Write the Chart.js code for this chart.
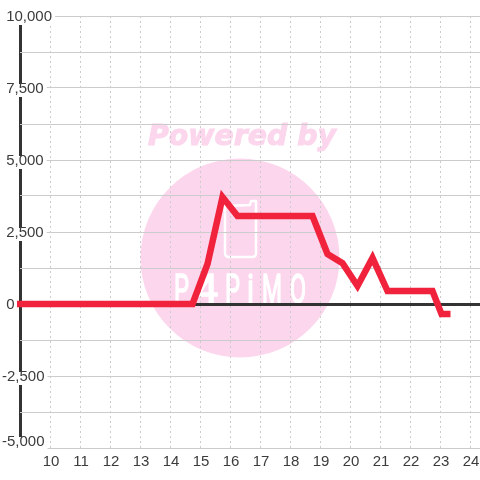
<!DOCTYPE html>
<html>
<head>
<meta charset="utf-8">
<title>Chart</title>
<style>
  html, body { margin: 0; padding: 0; background: #fff; }
  #chart { display: block; }
</style>
<script src="https://cdn.jsdelivr.net/npm/chart.js@4"></script>
</head>
<body>
<canvas id="chart" width="480" height="480"></canvas>
<script>
const hours = [8.9, 14.75, 15.25, 15.75, 16.25, 18.75, 19.25, 19.75, 20.25, 20.75, 21.25, 22.75, 23.05, 23.35];
const values = [0, 0, 1390, 3715, 3055, 3055, 1736, 1420, 625, 1600, 450, 450, -350, -350];
const hourTicks = [9, 10, 11, 12, 13, 14, 15, 16, 17, 18, 19, 20, 21, 22, 23, 24];
// -4757 only carries the bottom label, which sits just above its line
const yTicks = [-5000, -4757, -3750, -2500, -1250, 0, 1250, 2500, 3750, 5000, 6250, 7500, 8750, 10000];
const yTickLabels = ['', '-5,000', '', '-2,500', '', '0', '', '2,500', '', '5,000', '', '7,500', '', '10,000'];

const logoLetters = ['P', '4', 'P', 'i', 'M', 'O'];
const logoLetterX = [174, 195, 225, 247, 262, 290];
const logoLetterW = [15, 23, 15, 7, 20, 16];

const textColor = '#3c3c3c';
const gridColor = '#ccc';
const axisColor = '#333';

// pink logo behind the grid
const watermark = {
  id: 'watermark',
  beforeDraw(chart) {
    const c = chart.ctx;
    c.save();
    c.fillStyle = '#fcd6ec';
    c.beginPath();
    c.arc(240, 258, 99.5, 0, Math.PI * 2);
    c.fill();

    c.font = 'italic bold 29px "DejaVu Sans"';
    c.textAlign = 'left';
    c.textBaseline = 'alphabetic';
    c.strokeStyle = '#fcd6ec';
    c.lineWidth = 1;
    c.fillText('Powered by', 148, 145, 188);
    c.strokeText('Powered by', 148, 145, 188);

    c.strokeStyle = '#fff';
    c.lineWidth = 2.5;
    c.lineJoin = 'round';
    c.beginPath();
    c.moveTo(225, 206);
    c.lineTo(250, 205);
    c.lineTo(251, 201);
    c.lineTo(256, 201);
    c.lineTo(256, 253);
    c.quadraticCurveTo(256, 257, 252, 257);
    c.lineTo(229, 257);
    c.quadraticCurveTo(225, 257, 225, 253);
    c.closePath();
    c.stroke();

    c.fillStyle = '#fff';
    c.lineWidth = 1.5;
    c.font = '41px Roboto';
    logoLetters.forEach((ch, i) => {
      c.fillText(ch, logoLetterX[i], 303, logoLetterW[i]);
      c.strokeText(ch, logoLetterX[i], 303, logoLetterW[i]);
    });
    c.restore();
  }
};

new Chart(document.getElementById('chart'), {
  type: 'line',
  data: {
    datasets: [{
      data: hours.map((h, i) => ({ x: h, y: values[i] })),
      borderColor: '#f0223c',
      borderWidth: 6.5,
      pointRadius: 0,
      tension: 0,
      clip: false,
      borderJoinStyle: 'miter'
    }]
  },
  plugins: [watermark],
  options: {
    responsive: false,
    animation: false,
    layout: { padding: { top: 16 } },
    plugins: { legend: { display: false }, tooltip: { enabled: false } },
    scales: {
      x: {
        type: 'linear',
        min: 9,
        max: 24.333,
        afterBuildTicks(s) { s.ticks = hourTicks.map(value => ({ value })); },
        afterFit(s) { s.height = 32; s.paddingLeft = 0; s.paddingRight = 0; },
        border: {
          display: false,
          dash: ctx => (ctx.tick && ctx.tick.value === 9 ? [] : [2, 3])
        },
        grid: {
          drawTicks: false,
          color: ctx => (ctx.tick && ctx.tick.value === 9 ? axisColor : gridColor),
          lineWidth: ctx => (ctx.tick && ctx.tick.value === 9 ? 3 : 1)
        },
        ticks: {
          autoSkip: false,
          maxRotation: 0,
          padding: 5,
          labelOffset: 1,
          color: textColor,
          font: { family: '"Liberation Sans"', size: 15 },
          callback: v => (v === 9 ? '' : String(v))
        }
      },
      y: {
        min: -5000,
        max: 10000,
        afterBuildTicks(s) { s.ticks = yTicks.map(value => ({ value })); },
        afterFit(s) { s.width = 20; s.paddingTop = 0; s.paddingBottom = 0; },
        border: { display: false },
        grid: {
          drawTicks: false,
          color: ctx => {
            if (!ctx.tick) return gridColor;
            if (ctx.tick.value === -4757) return 'rgba(0,0,0,0)';
            return ctx.tick.value === 0 ? axisColor : gridColor;
          },
          lineWidth: ctx => (ctx.tick && ctx.tick.value === 0 ? 3 : 1)
        },
        ticks: {
          mirror: true,
          padding: -18,
          labelOffset: 1,
          color: textColor,
          font: { family: '"Liberation Sans"', size: 15, lineHeight: 16 / 15 },
          showLabelBackdrop: true,
          backdropColor: ctx => (ctx.index !== undefined && yTickLabels[ctx.index] ? '#fff' : 'rgba(255,255,255,0)'),
          backdropPadding: { top: -3, bottom: 0, left: 0, right: 3 },
          callback(v, i) {
            const label = yTickLabels[i];
            return v < 0 || !label ? label : '\u00a0' + label;
          }
        }
      }
    }
  }
});
</script>
</body>
</html>
